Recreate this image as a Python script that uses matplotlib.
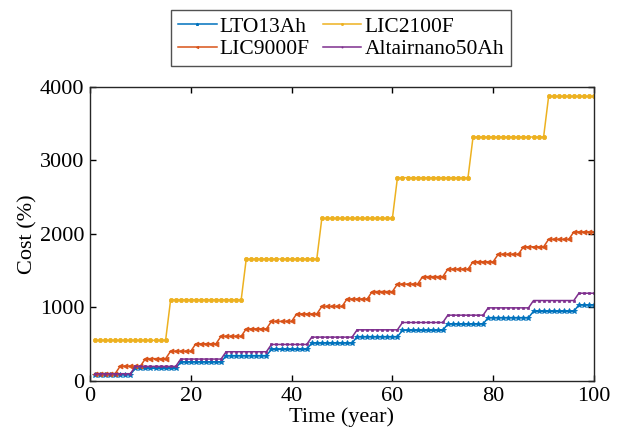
import numpy as np
import matplotlib
matplotlib.use("Agg")
import matplotlib.pyplot as plt

plt.rcParams['font.family'] = ['Liberation Serif', 'DejaVu Serif']
plt.rcParams['mathtext.fontset'] = 'stix'

years = np.arange(1, 101)

# replacement years (new cost level starts at that year) and cost per replacement
lto_jumps = [9, 18, 27, 36, 44, 53, 62, 71, 79, 88, 97]
lto_step = 86.2
lic2100_jumps = [16, 31, 46, 61, 76, 91]
lic2100_step = 553.0
lic9000_jumps = [6, 11, 16, 21, 26, 31, 36, 41, 46, 51, 56, 61, 66, 71, 76, 81, 86, 91, 96]
lic9000_step = 101.4
alt_jumps = [9, 18, 27, 36, 44, 53, 62, 71, 79, 88, 97]
alt_step = 99.5


def cumulative(jumps, step):
    n = np.ones_like(years, dtype=float)
    for j in jumps:
        n += (years >= j)
    return n * step


lto = cumulative(lto_jumps, lto_step)
lic2100 = cumulative(lic2100_jumps, lic2100_step)
lic9000 = cumulative(lic9000_jumps, lic9000_step)
alt = cumulative(alt_jumps, alt_step)

fig = plt.figure(figsize=(6.19, 4.41), dpi=100)
ax = fig.add_axes([0.1454, 0.136, 0.8142, 0.667])

c1, c2, c3, c4 = '#0072BD', '#D95319', '#EDB120', '#7E2F8E'
l1, = ax.plot(years, lto, color=c1, lw=1.1, marker='*', ms=4.2, mew=0.6, label='LTO13Ah')
l3, = ax.plot(years, lic2100, color=c3, lw=1.1, marker='o', ms=3, mew=0.6, label='LIC2100F')
l2, = ax.plot(years, lic9000, color=c2, lw=1.1, marker='<', ms=3.5, mew=0.6, label='LIC9000F')
l4, = ax.plot(years, alt, color=c4, lw=1.1, marker='s', ms=1.5, mew=0.5, label='Altairnano50Ah')

ax.set_xlim(0, 100)
ax.set_ylim(0, 4000)
ax.set_xticks([0, 20, 40, 60, 80, 100])
ax.set_yticks([0, 1000, 2000, 3000, 4000])
ax.tick_params(direction='in', top=True, right=True, labelsize=16, length=4, width=1, pad=4)
for s in ax.spines.values():
    s.set_linewidth(1.0)
    s.set_color('#262626')
ax.set_xlabel('Time (year)', fontsize=16, labelpad=1)
ax.set_ylabel('Cost (%)', fontsize=16, labelpad=2)

leg = fig.legend(handles=[l1, l2, l3, l4], ncol=2, loc='upper center',
                 bbox_to_anchor=(0.551, 0.977), fontsize=15.5, frameon=True,
                 fancybox=False, edgecolor='#262626', handlelength=1.8,
                 handletextpad=0.15, columnspacing=0.6, labelspacing=0.12,
                 borderpad=0.3, borderaxespad=0, markerscale=0.5)
leg.get_frame().set_linewidth(1.0)

fig.savefig('out.png', dpi=100)
